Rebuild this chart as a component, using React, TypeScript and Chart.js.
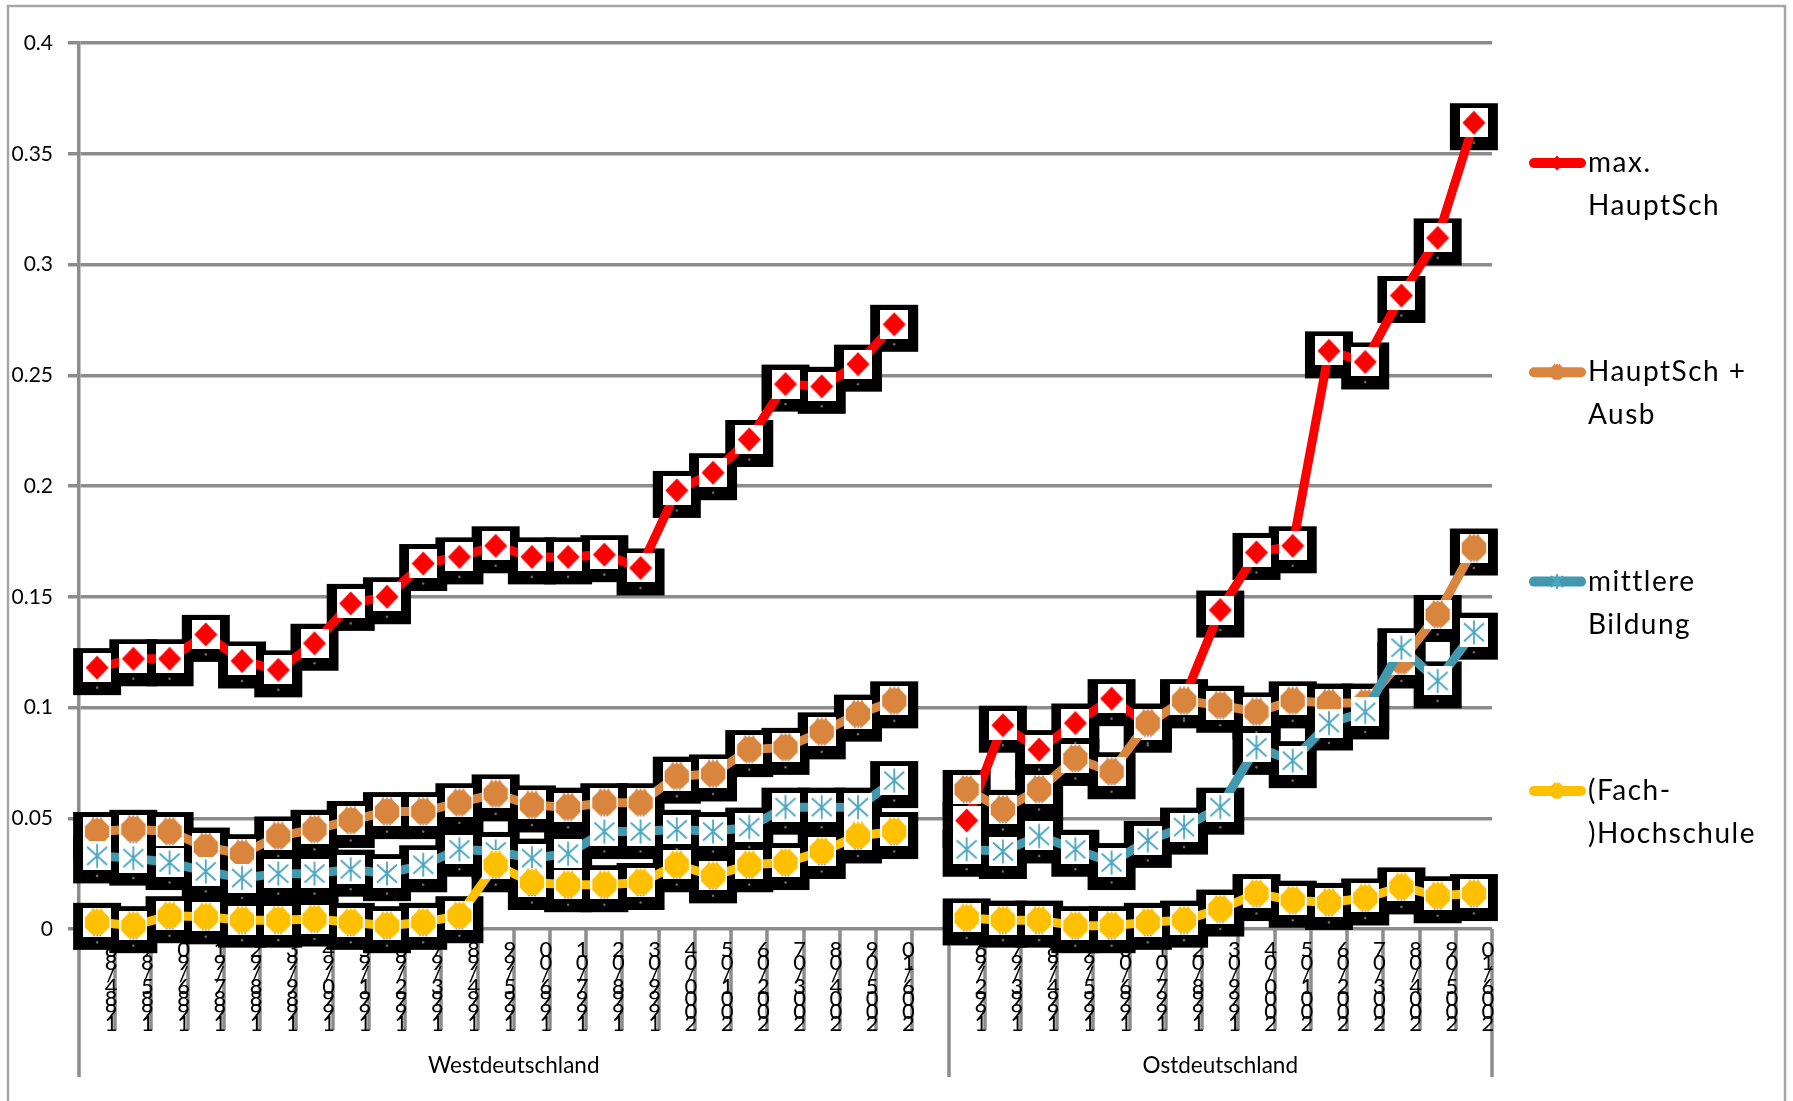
import React, { useEffect, useRef } from "react";
import { Chart, registerables } from "chart.js";

Chart.register(...registerables);

const WIDTH = 1793;
const HEIGHT = 1101;

// Periods (five-year windows) per region
const westPeriods = [
  "1984/88", "1985/89", "1986/90", "1987/91", "1988/92", "1989/93", "1990/94", "1991/95",
  "1992/96", "1993/97", "1994/98", "1995/99", "1996/00", "1997/01", "1998/02", "1999/03",
  "2000/04", "2001/05", "2002/06", "2003/07", "2004/08", "2005/09", "2006/10",
];
const eastPeriods = [
  "1992/96", "1993/97", "1994/98", "1995/99", "1996/00", "1997/01", "1998/02", "1999/03",
  "2000/04", "2001/05", "2002/06", "2003/07", "2004/08", "2005/09", "2006/10",
];
const regionNames = ["Westdeutschland", "Ostdeutschland"];

// Series values, West and East
const maxHauptSchWest = [0.118, 0.122, 0.122, 0.133, 0.121, 0.117, 0.129, 0.147, 0.150, 0.165, 0.168, 0.173, 0.168, 0.168, 0.169, 0.163, 0.198, 0.206, 0.221, 0.246, 0.245, 0.255, 0.273];
const maxHauptSchEast = [0.049, 0.092, 0.081, 0.093, 0.104, 0.092, 0.104, 0.144, 0.170, 0.173, 0.261, 0.256, 0.286, 0.312, 0.364];

const hauptSchAusbWest = [0.044, 0.045, 0.044, 0.037, 0.034, 0.042, 0.045, 0.049, 0.053, 0.053, 0.057, 0.061, 0.056, 0.055, 0.057, 0.057, 0.069, 0.070, 0.081, 0.082, 0.089, 0.097, 0.103];
const hauptSchAusbEast = [0.063, 0.054, 0.063, 0.077, 0.071, 0.093, 0.103, 0.101, 0.098, 0.103, 0.102, 0.102, 0.121, 0.142, 0.172];

const mittlereWest = [0.033, 0.032, 0.030, 0.026, 0.023, 0.025, 0.025, 0.027, 0.025, 0.029, 0.036, 0.035, 0.032, 0.034, 0.044, 0.044, 0.045, 0.044, 0.046, 0.055, 0.055, 0.055, 0.067];
const mittlereEast = [0.036, 0.035, 0.042, 0.036, 0.030, 0.040, 0.046, 0.055, 0.082, 0.076, 0.093, 0.098, 0.127, 0.112, 0.134];

const hochschuleWest = [0.003, 0.0015, 0.006, 0.0055, 0.004, 0.004, 0.0045, 0.003, 0.0015, 0.003, 0.006, 0.029, 0.021, 0.020, 0.020, 0.021, 0.029, 0.024, 0.029, 0.030, 0.035, 0.042, 0.044];
const hochschuleEast = [0.005, 0.004, 0.004, 0.0015, 0.0015, 0.003, 0.004, 0.009, 0.016, 0.013, 0.012, 0.014, 0.019, 0.015, 0.016];

const seriesLegend = [["max.", "HauptSch"], ["HauptSch +", "Ausb"], ["mittlere", "Bildung"], ["(Fach-", ")Hochschule"]];
const seriesColors = ["#FF0000", "#D9853D", "#4198AF", "#FFC000"];
const markerColors = ["#FF0000", "#D9853D", "#4BA6C0", "#FFC000"];
const markerKinds = ["diamond", "octagon", "asterisk", "octagon"];

// One empty category separates the two regions
const categoryLabels = [...westPeriods, "", ...eastPeriods];
const joinRegions = (w: number[], e: number[]) => [...w, null, ...e];
const seriesData = [
  joinRegions(maxHauptSchWest, maxHauptSchEast),
  joinRegions(hauptSchAusbWest, hauptSchAusbEast),
  joinRegions(mittlereWest, mittlereEast),
  joinRegions(hochschuleWest, hochschuleEast),
];

const GRID = "#8c8c8c";
const FONT = "Lato, 'Open Sans', sans-serif";

function drawSymbol(ctx: CanvasRenderingContext2D, kind: string, cx: number, cy: number, s: number, color: string, lw = 1.8) {
  ctx.save();
  ctx.fillStyle = color;
  ctx.strokeStyle = color;
  if (kind === "diamond") {
    ctx.beginPath();
    ctx.moveTo(cx, cy - 12 * s);
    ctx.lineTo(cx + 11.5 * s, cy);
    ctx.lineTo(cx, cy + 12 * s);
    ctx.lineTo(cx - 11.5 * s, cy);
    ctx.closePath();
    ctx.fill();
  } else if (kind === "octagon") {
    const r = 13.2 * s;
    ctx.beginPath();
    for (let k = 0; k < 8; k++) {
      const a = Math.PI / 8 + (k * Math.PI) / 4;
      const px = cx + r * Math.cos(a);
      const py = cy + r * Math.sin(a);
      if (k === 0) ctx.moveTo(px, py);
      else ctx.lineTo(px, py);
    }
    ctx.closePath();
    ctx.fill();
    // small serrations along the top edge
    const top = cy - r * Math.cos(Math.PI / 8);
    for (let k = -1; k <= 1; k++) {
      ctx.beginPath();
      ctx.moveTo(cx + k * 4 * s - 1.8 * s, top + 0.5);
      ctx.lineTo(cx + k * 4 * s, top - 2.5 * s);
      ctx.lineTo(cx + k * 4 * s + 1.8 * s, top + 0.5);
      ctx.closePath();
      ctx.fill();
    }
  } else {
    ctx.lineWidth = lw;
    ctx.beginPath();
    ctx.moveTo(cx, cy - 12 * s);
    ctx.lineTo(cx, cy + 12 * s);
    ctx.moveTo(cx - 10 * s, cy - 9 * s);
    ctx.lineTo(cx + 10 * s, cy + 9 * s);
    ctx.moveTo(cx + 10 * s, cy - 9 * s);
    ctx.lineTo(cx - 10 * s, cy + 9 * s);
    ctx.stroke();
  }
  ctx.restore();
}

function makeMarker(kind: string, color: string) {
  const c = document.createElement("canvas");
  c.width = 28;
  c.height = 29;
  const g = c.getContext("2d") as CanvasRenderingContext2D;
  g.fillStyle = "#fff";
  g.fillRect(0, 0, 28, 29);
  drawSymbol(g, kind, 14, 14.5, 1, color);
  if (kind === "octagon") {
    g.fillStyle = "#8a8a8a";
    [11, 14, 17].forEach((x) => {
      g.beginPath();
      g.arc(x, 27.6, 0.9, 0, Math.PI * 2);
      g.fill();
    });
  }
  return c;
}

// Outer frame of the chart object
const framePlugin = {
  id: "frame",
  beforeDraw(chart: any) {
    const ctx = chart.ctx;
    ctx.save();
    ctx.fillStyle = "#fff";
    ctx.fillRect(0, 0, chart.width, chart.height);
    ctx.strokeStyle = "#a6a6a6";
    ctx.lineWidth = 2.5;
    ctx.strokeRect(8, 6, 1777, 1200);
    ctx.restore();
  },
};

// Multi-level category axis: tick lines, stacked period labels, region separators, and marker boxes
const axisPlugin = {
  id: "multiLevelAxis",
  beforeDatasetsDraw(chart: any) {
    const ctx = chart.ctx;
    const xs = chart.scales.x;
    const area = chart.chartArea;
    const half = (xs.getPixelForValue(1) - xs.getPixelForValue(0)) / 2;
    const last = categoryLabels.length - 1;
    const gapIndex = westPeriods.length;
    ctx.save();
    ctx.strokeStyle = GRID;
    ctx.lineWidth = 3.5;
    // period tick lines at category boundaries
    categoryLabels.forEach((lab, i) => {
      if (!lab || i === last) return;
      const bx = Math.round(xs.getPixelForValue(i) + half);
      ctx.beginPath();
      ctx.moveTo(bx, area.bottom);
      ctx.lineTo(bx, area.bottom + 101);
      ctx.stroke();
    });
    // region separators
    const seps = [xs.getPixelForValue(0) - half, xs.getPixelForValue(gapIndex) + half, xs.getPixelForValue(last) + half];
    seps.forEach((sx) => {
      ctx.beginPath();
      ctx.moveTo(Math.round(sx), area.bottom);
      ctx.lineTo(Math.round(sx), area.bottom + 148);
      ctx.stroke();
    });
    // stacked period labels
    ctx.fillStyle = "#000";
    ctx.font = `22px ${FONT}`;
    ctx.textAlign = "center";
    ctx.textBaseline = "alphabetic";
    categoryLabels.forEach((lab, i) => {
      if (!lab) return;
      const cx = xs.getPixelForValue(i) + half - 4;
      const chars = lab.split("").reverse();
      chars.forEach((ch, k) => {
        ctx.fillText(ch, cx, area.bottom + 102 - (chars.length - 1 - k) * 12.3);
      });
    });
    // region names
    ctx.font = `22.5px ${FONT}`;
    ctx.textBaseline = "middle";
    ctx.fillText(regionNames[0], (seps[0] + seps[1]) / 2, area.bottom + 137);
    ctx.fillText(regionNames[1], (seps[1] + seps[2]) / 2, area.bottom + 137);

    // black marker boxes behind every series
    chart.data.datasets.forEach((ds: any, di: number) => {
      const meta = chart.getDatasetMeta(di);
      meta.data.forEach((pt: any, j: number) => {
        if (ds.data[j] == null) return;
        ctx.fillStyle = "#000";
        ctx.fillRect(pt.x - 24, pt.y - 19.5, 48, 47);
      });
    });
    chart.data.datasets.forEach((ds: any, di: number) => {
      const meta = chart.getDatasetMeta(di);
      meta.data.forEach((pt: any, j: number) => {
        if (ds.data[j] == null) return;
        ctx.fillStyle = "#6a6a6a";
        ctx.beginPath();
        ctx.arc(pt.x, pt.y + 20, 1.3, 0, Math.PI * 2);
        ctx.fill();
      });
    });
    ctx.restore();
  },
};

// Legend on the right with two-line entries
const legendPlugin = {
  id: "sideLegend",
  afterDraw(chart: any) {
    const ctx = chart.ctx;
    const left = chart.chartArea.right + 38;
    ctx.save();
    seriesLegend.forEach((lines, i) => {
      const y = 163 + i * 209.3;
      ctx.strokeStyle = seriesColors[i];
      ctx.lineWidth = 10;
      ctx.lineCap = "round";
      ctx.beginPath();
      ctx.moveTo(left + 4, y);
      ctx.lineTo(left + 51, y);
      ctx.stroke();
      drawSymbol(ctx, markerKinds[i], left + 27, y, markerKinds[i] === "asterisk" ? 0.55 : 0.62, markerColors[i], 2.2);
      ctx.fillStyle = "#000";
      ctx.font = `28px ${FONT}`;
      (ctx as any).letterSpacing = "1.5px";
      ctx.textAlign = "left";
      ctx.textBaseline = "middle";
      lines.forEach((t, k) => ctx.fillText(t, left + 58, y + k * 43));
    });
    ctx.restore();
  },
};

export default function App() {
  const ref = useRef<HTMLCanvasElement | null>(null);

  useEffect(() => {
    const canvas = ref.current;
    if (!canvas) return;
    const datasets = seriesData.map((data, i) => ({
      label: seriesLegend[i].join(" "),
      data,
      borderColor: seriesColors[i],
      backgroundColor: seriesColors[i],
      borderWidth: 9,
      pointStyle: makeMarker(markerKinds[i], markerColors[i]),
      pointRadius: 4,
      pointHoverRadius: 4,
      tension: 0,
      spanGaps: false,
      clip: false,
      order: seriesData.length - i,
    }));
    const chart = new Chart(canvas, {
      type: "line",
      data: { labels: categoryLabels, datasets },
      options: {
        responsive: false,
        animation: false,
        devicePixelRatio: 1,
        layout: { padding: { top: 43, right: 301, left: 0, bottom: 0 } },
        plugins: { legend: { display: false }, tooltip: { enabled: false } },
        scales: {
          x: {
            type: "category",
            offset: true,
            grid: { display: false },
            border: { display: false },
            ticks: { display: false },
            afterFit: (s: any) => {
              s.height = 172;
            },
          },
          y: {
            min: 0,
            max: 0.4,
            afterFit: (s: any) => {
              s.width = 79;
            },
            ticks: {
              stepSize: 0.05,
              padding: 15,
              color: "#000",
              font: { family: FONT, size: 21 },
              callback: (v: any) => String(Math.round(Number(v) * 100) / 100),
            },
            grid: { color: GRID, lineWidth: 3.5, tickLength: 11, drawTicks: true },
            border: { color: GRID, width: 3.5 },
          },
        },
      } as any,
      plugins: [framePlugin, axisPlugin, legendPlugin],
    } as any);
    return () => chart.destroy();
  }, []);

  return (
    <div style={{ position: "absolute", left: 0, top: 0, width: WIDTH, height: HEIGHT }}>
      <canvas ref={ref} width={WIDTH} height={HEIGHT} style={{ display: "block" }} />
    </div>
  );
}
